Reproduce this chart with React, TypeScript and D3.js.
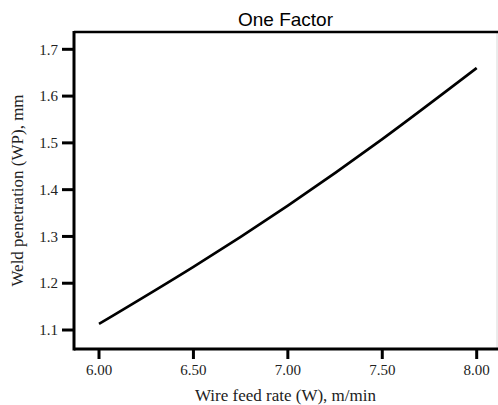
import React, { useEffect, useRef } from "react";
import * as d3 from "d3";

// Wire feed rate (m/min) and predicted weld penetration (mm)
const wireFeed = [6.0, 6.5, 7.0, 7.5, 8.0];
const penetration = [1.113, 1.235, 1.366, 1.508, 1.66];

const xTicks = [6.0, 6.5, 7.0, 7.5, 8.0];
const yTicks = [1.1, 1.2, 1.3, 1.4, 1.5, 1.6, 1.7];

const title = "One Factor";
const xTitle = "Wire feed rate (W), m/min";
const yTitle = "Weld penetration (WP), mm";

const W = 498;
const H = 405;
const M = { left: 74, right: 497, top: 32, bottom: 349 };

export default function App() {
  const ref = useRef<SVGSVGElement | null>(null);

  useEffect(() => {
    const svg = d3.select(ref.current);
    svg.selectAll("*").remove();

    const x = d3.scaleLinear().domain([5.8676, 8.1075]).range([M.left, M.right]);
    const y = d3.scaleLinear().domain([1.0594, 1.737]).range([M.bottom, M.top]);

    svg.append("rect").attr("width", W).attr("height", H).attr("fill", "#fff");

    // frame: faint right edge, heavy top/left/bottom
    svg.append("line")
      .attr("x1", M.right).attr("x2", M.right)
      .attr("y1", M.top).attr("y2", M.bottom)
      .attr("stroke", "#d8d8d8").attr("stroke-width", 1);
    svg.append("line")
      .attr("x1", M.left).attr("x2", W)
      .attr("y1", M.top).attr("y2", M.top)
      .attr("stroke", "#000").attr("stroke-width", 2.5);
    svg.append("line")
      .attr("x1", M.left).attr("x2", M.left)
      .attr("y1", M.top - 1).attr("y2", M.bottom + 1.5)
      .attr("stroke", "#000").attr("stroke-width", 3);
    svg.append("line")
      .attr("x1", M.left).attr("x2", W)
      .attr("y1", M.bottom).attr("y2", M.bottom)
      .attr("stroke", "#000").attr("stroke-width", 3);

    // y ticks
    const yg = svg.append("g");
    yTicks.forEach((v) => {
      yg.append("line")
        .attr("x1", M.left - 12).attr("x2", M.left)
        .attr("y1", y(v)).attr("y2", y(v))
        .attr("stroke", "#000").attr("stroke-width", 3);
      yg.append("text")
        .attr("x", M.left - 16).attr("y", y(v))
        .attr("dy", "0.35em")
        .attr("text-anchor", "end")
        .attr("font-family", "'Liberation Serif', 'Times New Roman', serif")
        .attr("font-size", 15)
        .attr("fill", "#222")
        .text(d3.format(".1f")(v));
    });

    // x ticks
    const xg = svg.append("g");
    xTicks.forEach((v) => {
      xg.append("line")
        .attr("x1", x(v)).attr("x2", x(v))
        .attr("y1", M.bottom).attr("y2", M.bottom + 10)
        .attr("stroke", "#000").attr("stroke-width", 3);
      xg.append("text")
        .attr("x", x(v)).attr("y", 375)
        .attr("text-anchor", "middle")
        .attr("font-family", "'Liberation Serif', 'Times New Roman', serif")
        .attr("font-size", 15)
        .attr("fill", "#222")
        .text(d3.format(".2f")(v));
    });

    // response curve
    const line = d3.line<number>()
      .x((_, i) => x(wireFeed[i]))
      .y((d) => y(d))
      .curve(d3.curveNatural);
    svg.append("path")
      .attr("d", line(penetration) ?? "")
      .attr("fill", "none")
      .attr("stroke", "#000")
      .attr("stroke-width", 2.6);

    // titles
    svg.append("text")
      .attr("x", (M.left + M.right) / 2).attr("y", 26)
      .attr("text-anchor", "middle")
      .attr("font-family", "'Liberation Sans', Arial, sans-serif")
      .attr("font-size", 19)
      .attr("fill", "#000")
      .text(title);
    svg.append("text")
      .attr("x", (M.left + M.right) / 2).attr("y", 401)
      .attr("text-anchor", "middle")
      .attr("font-family", "'Liberation Serif', 'Times New Roman', serif")
      .attr("font-size", 17)
      .attr("fill", "#222")
      .text(xTitle);
    svg.append("text")
      .attr("transform", `translate(23, ${(M.top + M.bottom) / 2}) rotate(-90)`)
      .attr("text-anchor", "middle")
      .attr("font-family", "'Liberation Serif', 'Times New Roman', serif")
      .attr("font-size", 17)
      .attr("fill", "#222")
      .text(yTitle);
  }, []);

  return (
    <svg
      ref={ref}
      width={W}
      height={H}
      style={{ position: "absolute", left: 0, top: 0, display: "block" }}
    />
  );
}
